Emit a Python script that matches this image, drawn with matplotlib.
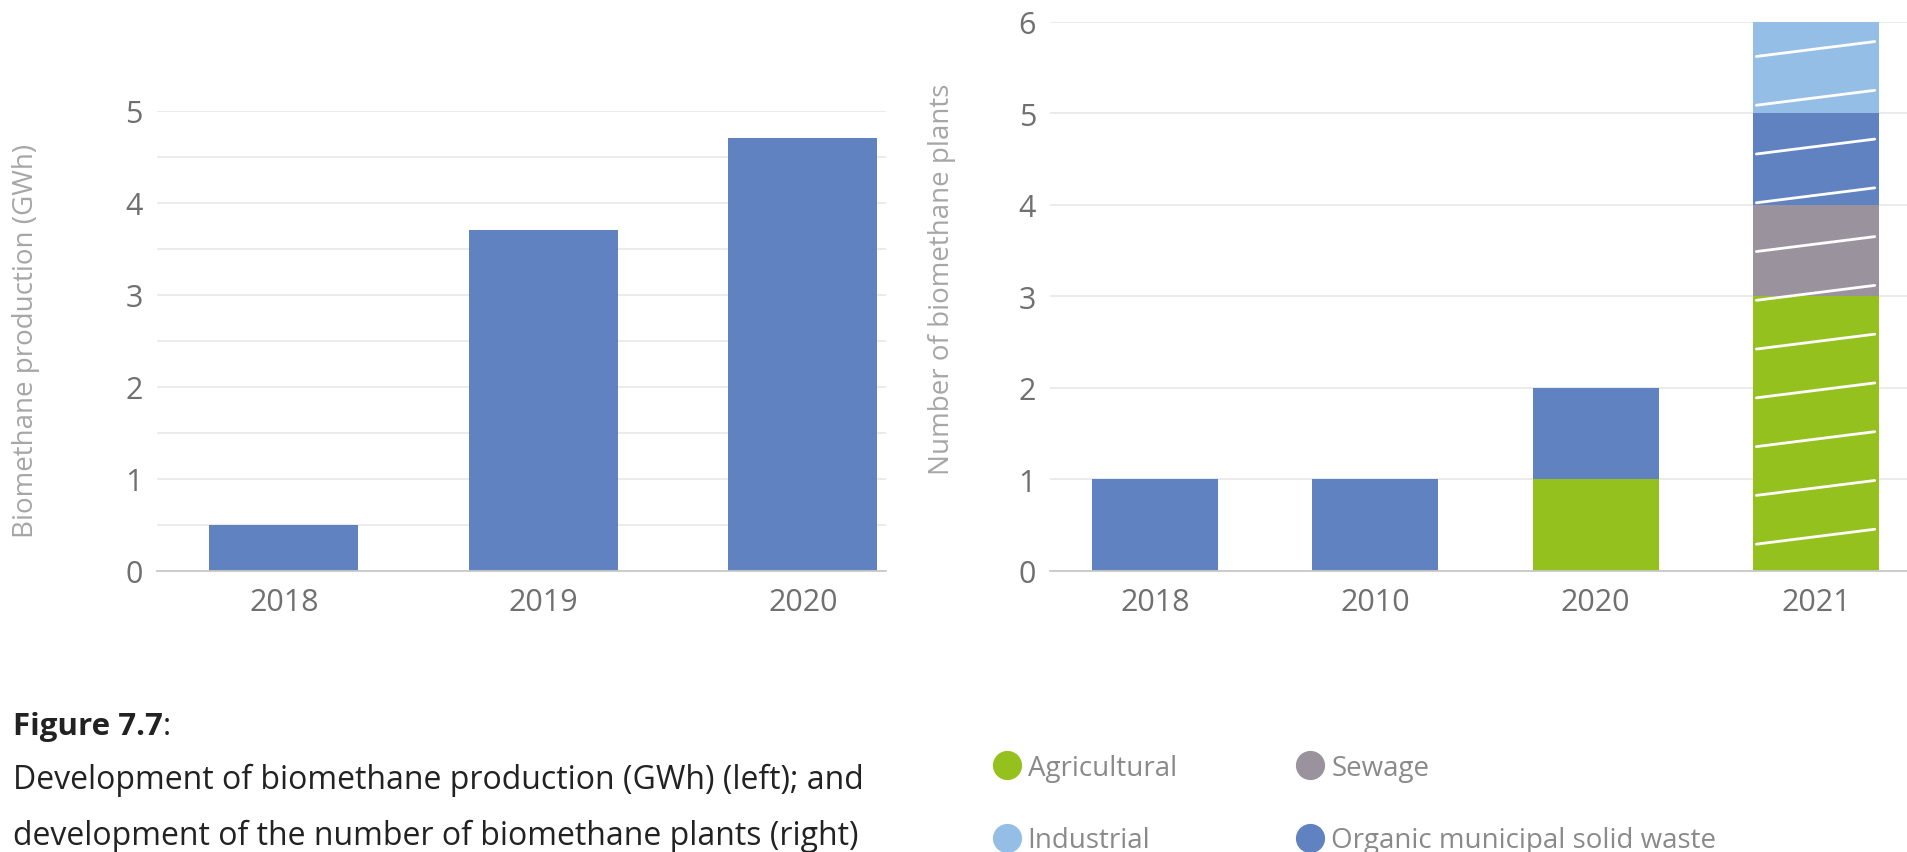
import matplotlib
matplotlib.use("Agg")
import matplotlib.pyplot as plt
from matplotlib.lines import Line2D
import numpy as np

plt.rcParams['font.family'] = ['Open Sans', 'DejaVu Sans']

# ---- data ----
prod_years = ["2018", "2019", "2020"]
prod_values = [0.5, 3.7, 4.7]

plant_years = ["2018", "2010", "2020", "2021"]
agricultural = [0, 0, 1, 3]
sewage = [0, 0, 0, 1]
organic_msw = [1, 1, 1, 1]
industrial = [0, 0, 0, 1]
hatched = [False, False, False, True]

C_BLUE = "#6182C0"
C_GREEN = "#95C11F"
C_GREY = "#9A939E"
C_LBLUE = "#95BEE6"
TICK_C = "#707070"
TITLE_C = "#A6A6A6"
GRID_C = "#E8E8E8"

W, H = 1908, 853
fig = plt.figure(figsize=(W / 100, H / 100), dpi=100)


def px_axes(x0, y0, x1, y1):
    return fig.add_axes([x0 / W, 1 - y1 / H, (x1 - x0) / W, (y1 - y0) / H])


def style(ax):
    for s in ["top", "right", "left"]:
        ax.spines[s].set_visible(False)
    ax.spines["bottom"].set_color("#C8C8C8")
    ax.spines["bottom"].set_linewidth(1.3)
    ax.tick_params(axis="both", length=0, labelsize=22, colors=TICK_C)
    ax.tick_params(axis="y", pad=10)
    ax.tick_params(axis="x", pad=12)
    ax.set_axisbelow(True)


# ---- left chart ----
ax1 = px_axes(156.7, 111.7, 886, 571.7)
x1 = np.arange(len(prod_years))
ax1.bar(x1, prod_values, width=0.574, color=C_BLUE, zorder=2)
ax1.set_xlim(-0.49, 2.32)
ax1.set_ylim(0, 5)
ax1.set_xticks(x1)
ax1.set_xticklabels(prod_years)
ax1.set_yticks(np.arange(0, 6, 1))
ax1.set_yticks(np.arange(0.5, 5, 1), minor=True)
ax1.tick_params(axis="y", which="minor", length=0)
ax1.grid(axis="y", which="both", color=GRID_C, linewidth=1.2)
style(ax1)
fig.text(26 / W, 1 - 341 / H, "Biomethane production (GWh)", rotation=90,
         ha="center", va="center", fontsize=20, color=TITLE_C)

# ---- right chart ----
ax2 = px_axes(1050, 22.7, 1921, 571.7)
x2 = np.arange(len(plant_years))
bw = 0.572
stack = [(agricultural, C_GREEN), (sewage, C_GREY), (organic_msw, C_BLUE), (industrial, C_LBLUE)]
bottom = np.zeros(len(plant_years))
for vals, col in stack:
    v = np.array(vals, dtype=float)
    ax2.bar(x2, v, width=bw, bottom=bottom, color=col, zorder=2)
    bottom += v

# slanted white hatch lines on hatched (planned) bars
hatch_offset, hatch_step, hatch_rise = 0.29, 0.533, 0.163
for xi, tot, h in zip(x2, bottom, hatched):
    if not h:
        continue
    y = hatch_offset
    while y + hatch_rise < tot:
        ax2.plot([xi - bw / 2 + 0.015, xi + bw / 2 - 0.02], [y, y + hatch_rise],
                 color="white", linewidth=2.0, solid_capstyle="round", zorder=3)
        y += hatch_step

ax2.set_xlim(-0.476, 3.476)
ax2.set_ylim(0, 6)
ax2.set_xticks(x2)
ax2.set_xticklabels(plant_years)
ax2.set_yticks(np.arange(0, 7, 1))
ax2.grid(axis="y", color=GRID_C, linewidth=1.2)
style(ax2)
fig.text(941.7 / W, 1 - 279 / H, "Number of biomethane plants", rotation=90,
         ha="center", va="center", fontsize=20, color=TITLE_C)

# ---- caption ----
cap = fig.text(13 / W, 1 - 735 / H, "Figure 7.7", fontsize=22.5, fontweight="bold",
               color="#222222", ha="left", va="baseline")
fig.canvas.draw()
bb = cap.get_window_extent()
fig.text(bb.x1 / W, 1 - 735 / H, ":", fontsize=22.5, color="#222222",
         ha="left", va="baseline")
fig.text(13 / W, 1 - 789 / H,
         "Development of biomethane production (GWh) (left); and",
         fontsize=23, color="#222222", ha="left", va="baseline")
fig.text(13 / W, 1 - 845 / H,
         "development of the number of biomethane plants (right)",
         fontsize=23, color="#222222", ha="left", va="baseline")

# ---- legend ----
labels = ["Agricultural", "Industrial", "Sewage", "Organic municipal solid waste"]
colors = [C_GREEN, C_LBLUE, C_GREY, C_BLUE]
handles = [Line2D([], [], marker="o", linestyle="none", markersize=20,
                  markerfacecolor=c, markeredgecolor=c) for c in colors]
fig.legend(handles, labels, ncol=2, frameon=False, loc="upper left",
           bbox_to_anchor=(993 / W, 1 - 755 / H), fontsize=20,
           labelcolor="#8A8A8A", handletextpad=0.25, columnspacing=4.3,
           labelspacing=1.6, borderpad=0, borderaxespad=0, handlelength=1.0)

fig.savefig("out.png", dpi=100)
